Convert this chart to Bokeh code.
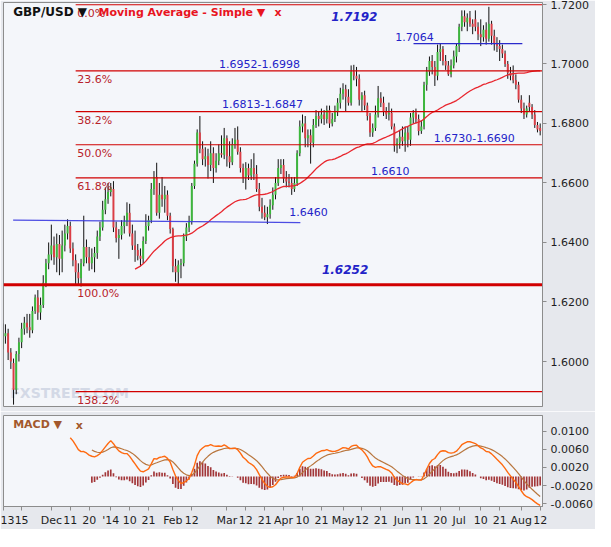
import numpy as np
import pandas as pd
from bokeh.plotting import figure
from bokeh.models import Range1d, FixedTicker, NumeralTickFormatter
from bokeh.layouts import column
from bokeh.embed import file_html
from bokeh.resources import INLINE
from bokeh.core.properties import value

# ---------------- data (daily GBP/USD, Nov 6 2013 .. Aug 12 2014) ----------------
OPEN = [
    1.6050, 1.6085, 1.6095, 1.6030, 1.5995, 1.5905, 1.6025, 1.6065, 1.6110, 1.6130,
    1.6115, 1.6105, 1.6170, 1.6215, 1.6165, 1.6190, 1.6265, 1.6330, 1.6360, 1.6390,
    1.6350, 1.6395, 1.6345, 1.6390, 1.6430, 1.6455, 1.6380, 1.6340, 1.6300, 1.6280,
    1.6330, 1.6385, 1.6350, 1.6330, 1.6350, 1.6365, 1.6420, 1.6450, 1.6510, 1.6545,
    1.6570, 1.6580, 1.6450, 1.6415, 1.6425, 1.6455, 1.6470, 1.6500, 1.6430, 1.6390,
    1.6375, 1.6355, 1.6345, 1.6405, 1.6455, 1.6475, 1.6580, 1.6620, 1.6500, 1.6560,
    1.6545, 1.6560, 1.6490, 1.6445, 1.6320, 1.6300, 1.6325, 1.6330, 1.6420, 1.6450,
    1.6470, 1.6590, 1.6665, 1.6770, 1.6715, 1.6680, 1.6690, 1.6660, 1.6700, 1.6650,
    1.6675, 1.6700, 1.6695, 1.6750, 1.6690, 1.6670, 1.6730, 1.6745, 1.6705, 1.6650,
    1.6620, 1.6650, 1.6625, 1.6650, 1.6630, 1.6580, 1.6520, 1.6500, 1.6485, 1.6495,
    1.6525, 1.6560, 1.6600, 1.6650, 1.6660, 1.6615, 1.6605, 1.6600, 1.6580, 1.6600,
    1.6700, 1.6790, 1.6800, 1.6750, 1.6760, 1.6735, 1.6795, 1.6825, 1.6815, 1.6830,
    1.6815, 1.6845, 1.6800, 1.6815, 1.6840, 1.6870, 1.6900, 1.6915, 1.6890, 1.6870,
    1.6975, 1.6960, 1.6950, 1.6880, 1.6895, 1.6860, 1.6825, 1.6770, 1.6785, 1.6830,
    1.6885, 1.6870, 1.6840, 1.6830, 1.6835, 1.6790, 1.6725, 1.6735, 1.6755, 1.6740,
    1.6770, 1.6745, 1.6820, 1.6835, 1.6815, 1.6775, 1.6790, 1.6930, 1.6975, 1.7010,
    1.6990, 1.6960, 1.7040, 1.7050, 1.7010, 1.6995, 1.6965, 1.6995, 1.7025, 1.7060,
    1.7125, 1.7160, 1.7140, 1.7155, 1.7135, 1.7150, 1.7125, 1.7100, 1.7090, 1.7115,
    1.7085, 1.7135, 1.7095, 1.7070, 1.7060, 1.7050, 1.7035, 1.7000, 1.6970, 1.6960,
    1.6945, 1.6930, 1.6880, 1.6850, 1.6830, 1.6870, 1.6855, 1.6830, 1.6795, 1.6785,
]
HIGH = [
    1.6128, 1.6125, 1.6110, 1.6045, 1.6010, 1.6035, 1.6080, 1.6130, 1.6150, 1.6160,
    1.6160, 1.6185, 1.6225, 1.6240, 1.6215, 1.6290, 1.6345, 1.6400, 1.6460, 1.6420,
    1.6430, 1.6425, 1.6440, 1.6460, 1.6478, 1.6470, 1.6400, 1.6360, 1.6330, 1.6345,
    1.6490, 1.6410, 1.6385, 1.6380, 1.6385, 1.6440, 1.6470, 1.6540, 1.6585, 1.6600,
    1.6600, 1.6606, 1.6470, 1.6445, 1.6475, 1.6490, 1.6535, 1.6530, 1.6460, 1.6440,
    1.6395, 1.6380, 1.6420, 1.6495, 1.6490, 1.6600, 1.6640, 1.6668, 1.6600, 1.6620,
    1.6590, 1.6575, 1.6500, 1.6450, 1.6345, 1.6340, 1.6345, 1.6430, 1.6465, 1.6490,
    1.6600, 1.6675, 1.6780, 1.6825, 1.6740, 1.6720, 1.6715, 1.6740, 1.6720, 1.6700,
    1.6730, 1.6760, 1.6785, 1.6760, 1.6740, 1.6750, 1.6785, 1.6790, 1.6720, 1.6665,
    1.6670, 1.6665, 1.6680, 1.6700, 1.6660, 1.6600, 1.6550, 1.6525, 1.6520, 1.6545,
    1.6585, 1.6620, 1.6680, 1.6680, 1.6680, 1.6640, 1.6630, 1.6620, 1.6620, 1.6710,
    1.6810, 1.6830, 1.6825, 1.6780, 1.6780, 1.6815, 1.6845, 1.6840, 1.6850, 1.6845,
    1.6860, 1.6860, 1.6835, 1.6860, 1.6885, 1.6920, 1.6935, 1.6930, 1.6915, 1.6995,
    1.6997, 1.6990, 1.6965, 1.6905, 1.6910, 1.6870, 1.6835, 1.6800, 1.6860, 1.6926,
    1.6905, 1.6890, 1.6855, 1.6870, 1.6850, 1.6800, 1.6750, 1.6775, 1.6790, 1.6790,
    1.6790, 1.6835, 1.6845, 1.6850, 1.6830, 1.6810, 1.6940, 1.6990, 1.7025, 1.7030,
    1.7010, 1.7065, 1.7070, 1.7060, 1.7030, 1.7010, 1.7015, 1.7045, 1.7070, 1.7135,
    1.7180, 1.7180, 1.7170, 1.7178, 1.7150, 1.7180, 1.7140, 1.7150, 1.7130, 1.7140,
    1.7192, 1.7145, 1.7115, 1.7090, 1.7080, 1.7065, 1.7045, 1.7010, 1.6990, 1.6995,
    1.6965, 1.6940, 1.6895, 1.6870, 1.6860, 1.6895, 1.6865, 1.6845, 1.6805, 1.6800,
]
LOW = [
    1.6040, 1.6060, 1.6005, 1.5975, 1.5855, 1.5890, 1.6000, 1.6045, 1.6090, 1.6095,
    1.6080, 1.6095, 1.6160, 1.6140, 1.6140, 1.6180, 1.6250, 1.6310, 1.6340, 1.6325,
    1.6300, 1.6290, 1.6300, 1.6370, 1.6410, 1.6365, 1.6320, 1.6258, 1.6256, 1.6252,
    1.6320, 1.6330, 1.6305, 1.6310, 1.6300, 1.6345, 1.6405, 1.6440, 1.6495, 1.6530,
    1.6555, 1.6435, 1.6400, 1.6345, 1.6410, 1.6430, 1.6455, 1.6420, 1.6375, 1.6335,
    1.6340, 1.6320, 1.6330, 1.6395, 1.6440, 1.6465, 1.6560, 1.6490, 1.6480, 1.6520,
    1.6500, 1.6475, 1.6430, 1.6300, 1.6268, 1.6255, 1.6280, 1.6320, 1.6405, 1.6435,
    1.6460, 1.6580, 1.6655, 1.6700, 1.6660, 1.6655, 1.6615, 1.6640, 1.6600, 1.6635,
    1.6660, 1.6685, 1.6680, 1.6655, 1.6650, 1.6660, 1.6715, 1.6695, 1.6635, 1.6600,
    1.6578, 1.6610, 1.6610, 1.6610, 1.6570, 1.6505, 1.6480, 1.6475, 1.6462, 1.6480,
    1.6510, 1.6545, 1.6590, 1.6630, 1.6600, 1.6585, 1.6585, 1.6560, 1.6570, 1.6590,
    1.6690, 1.6770, 1.6720, 1.6720, 1.6665, 1.6720, 1.6785, 1.6790, 1.6800, 1.6795,
    1.6800, 1.6785, 1.6790, 1.6805, 1.6825, 1.6850, 1.6880, 1.6840, 1.6860, 1.6860,
    1.6945, 1.6925, 1.6860, 1.6840, 1.6845, 1.6810, 1.6755, 1.6755, 1.6775, 1.6820,
    1.6855, 1.6825, 1.6815, 1.6810, 1.6780, 1.6705, 1.6700, 1.6715, 1.6725, 1.6705,
    1.6720, 1.6725, 1.6800, 1.6800, 1.6760, 1.6765, 1.6780, 1.6910, 1.6960, 1.6965,
    1.6926, 1.6945, 1.7010, 1.6995, 1.6980, 1.6960, 1.6955, 1.6985, 1.7005, 1.7040,
    1.7110, 1.7125, 1.7110, 1.7125, 1.7100, 1.7110, 1.7080, 1.7060, 1.7075, 1.7065,
    1.7075, 1.7065, 1.7045, 1.7040, 1.7010, 1.7020, 1.6990, 1.6950, 1.6945, 1.6935,
    1.6915, 1.6870, 1.6835, 1.6815, 1.6820, 1.6840, 1.6815, 1.6785, 1.6770, 1.6760,
]
CLOSE = [
    1.6085, 1.6095, 1.6030, 1.6000, 1.5905, 1.6025, 1.6065, 1.6110, 1.6130, 1.6115,
    1.6105, 1.6170, 1.6215, 1.6165, 1.6190, 1.6265, 1.6330, 1.6360, 1.6390, 1.6350,
    1.6395, 1.6345, 1.6390, 1.6430, 1.6455, 1.6380, 1.6340, 1.6300, 1.6280, 1.6330,
    1.6385, 1.6350, 1.6330, 1.6350, 1.6365, 1.6420, 1.6450, 1.6510, 1.6545, 1.6570,
    1.6585, 1.6450, 1.6415, 1.6425, 1.6455, 1.6470, 1.6500, 1.6430, 1.6390, 1.6375,
    1.6355, 1.6345, 1.6405, 1.6455, 1.6475, 1.6580, 1.6620, 1.6500, 1.6560, 1.6545,
    1.6560, 1.6490, 1.6445, 1.6320, 1.6300, 1.6325, 1.6330, 1.6420, 1.6450, 1.6470,
    1.6590, 1.6665, 1.6770, 1.6715, 1.6680, 1.6690, 1.6660, 1.6700, 1.6650, 1.6675,
    1.6700, 1.6695, 1.6750, 1.6690, 1.6670, 1.6730, 1.6745, 1.6705, 1.6650, 1.6620,
    1.6650, 1.6625, 1.6650, 1.6630, 1.6580, 1.6520, 1.6500, 1.6485, 1.6495, 1.6525,
    1.6560, 1.6600, 1.6650, 1.6660, 1.6615, 1.6605, 1.6600, 1.6580, 1.6600, 1.6700,
    1.6790, 1.6800, 1.6750, 1.6760, 1.6735, 1.6795, 1.6825, 1.6815, 1.6830, 1.6815,
    1.6845, 1.6800, 1.6815, 1.6840, 1.6870, 1.6900, 1.6915, 1.6890, 1.6870, 1.6975,
    1.6960, 1.6950, 1.6880, 1.6895, 1.6860, 1.6825, 1.6770, 1.6785, 1.6830, 1.6885,
    1.6870, 1.6840, 1.6830, 1.6835, 1.6790, 1.6725, 1.6735, 1.6755, 1.6740, 1.6770,
    1.6745, 1.6820, 1.6835, 1.6815, 1.6775, 1.6790, 1.6930, 1.6975, 1.7010, 1.6990,
    1.6960, 1.7040, 1.7050, 1.7010, 1.6995, 1.6965, 1.6995, 1.7025, 1.7060, 1.7125,
    1.7160, 1.7140, 1.7155, 1.7135, 1.7125, 1.7125, 1.7100, 1.7090, 1.7115, 1.7085,
    1.7135, 1.7095, 1.7070, 1.7060, 1.7050, 1.7035, 1.7000, 1.6970, 1.6960, 1.6945,
    1.6930, 1.6880, 1.6850, 1.6830, 1.6850, 1.6855, 1.6830, 1.6795, 1.6780, 1.6775,
]

# date axis (bar index -> label)
TICK_BARS = [0.3, 7, 18, 25, 32, 40, 47, 54, 63, 70, 83, 90, 97, 104, 111, 118,
             126, 133, 140, 148, 155, 162, 169, 177, 184, 192, 199]
TICK_LABELS = ["13", "15", "Dec", "11", "20", "'14", "10", "21", "Feb", "12", "Mar",
               "12", "21", "Apr", "10", "21", "May", "12", "21", "Jun", "11", "20",
               "Jul", "10", "21", "Aug", "12"]

PRICE_TICKS = [1.60, 1.62, 1.64, 1.66, 1.68, 1.70, 1.72]
MACD_TICKS = [-0.006, -0.002, 0.002, 0.006, 0.010]

# Fibonacci retracement
FIB_HIGH = 1.7199
FIB_LOW = 1.6258
FIB_RATIOS = [0.0, 0.236, 0.382, 0.5, 0.618, 1.0, 1.382]
FIB_NAMES = ["0.0%", "23.6%", "38.2%", "50.0%", "61.8%", "100.0%", "138.2%"]

# hand-drawn levels: (bar0, bar1, price0, price1)
SUPPORT_LINE = (3.85, 110.2, 1.6475, 1.6467)
RESIST_LINE = (152.1, 192.4, 1.7068, 1.7068)

# annotation texts: label, bar, price, bold-italic?
NOTE_TEXT = ["1.7192", "1.7064", "1.6952-1.6998", "1.6813-1.6847", "1.6730-1.6690",
             "1.6610", "1.6460", "1.6252"]
NOTE_BAR = [121.6, 145.3, 80.1, 81.2, 159.6, 136.4, 106.1, 118.2]
NOTE_PRICE = [1.7161, 1.7092, 1.7001, 1.6865, 1.6751, 1.6639, 1.6502, 1.6309]
NOTE_BOLD = [True, False, False, False, False, False, False, True]

SMA_PERIOD = 50
MACD_FAST, MACD_SLOW, MACD_SIG = 12, 26, 9

# ---------------- derived ----------------
o = np.array(OPEN); h = np.array(HIGH); l = np.array(LOW); c = np.array(CLOSE)
N = len(c)
idx = np.arange(N)
up = c >= o

FONT = value("DejaVu Sans")
X_START, X_END = 0.285, 199.86
BG = "#f4f6fa"
BORDER = "#e6e8ed"
AXIS_GREY = "#8c8c8c"

p1 = figure(width=595, height=411, x_range=Range1d(X_START, X_END),
            y_range=Range1d(1.58488, 1.72065), y_axis_location="right",
            x_axis_location=None, toolbar_location=None, output_backend="svg",
            min_border_left=3, min_border_right=52, min_border_top=2, min_border_bottom=5)
p1.grid.visible = False
p1.background_fill_color = BG
p1.border_fill_color = BORDER
p1.outline_line_color = AXIS_GREY

ax = p1.yaxis[0]
ax.ticker = FixedTicker(ticks=PRICE_TICKS)
ax.formatter = NumeralTickFormatter(format="0.0000")

# watermark
p1.text(x=[2.8], y=[1.5895], text=["FXSTREET.COM"], text_font=FONT, text_font_size="14px",
        text_font_style="bold", text_color="#d3d9e6", text_align="left", text_baseline="middle")

# candles
p1.segment(x0=idx, y0=h, x1=idx, y1=l, line_color="#111111", line_width=1)
p1.vbar(x=idx[up], width=0.72, top=c[up], bottom=o[up], fill_color="#3cb83c", line_color=None)
p1.vbar(x=idx[~up], width=0.72, top=o[~up], bottom=c[~up], fill_color="#dc3d45", line_color=None)

# moving average
sma = pd.Series(c).rolling(SMA_PERIOD).mean().to_numpy()
p1.line(idx[SMA_PERIOD - 1:], sma[SMA_PERIOD - 1:], line_color="#e8262e", line_width=1.3)

# fibonacci
rng = FIB_HIGH - FIB_LOW
levels = [FIB_HIGH - r * rng for r in FIB_RATIOS]
fib_start = 27.0
for r, lev in zip(FIB_RATIOS, levels):
    if r == 1.0:
        p1.segment(x0=[X_START], x1=[X_END], y0=[lev], y1=[lev], line_color="#d10000", line_width=3)
    else:
        p1.segment(x0=[fib_start], x1=[X_END], y0=[lev], y1=[lev], line_color="#d10000", line_width=1.2)
p1.text(x=[fib_start + 0.6] * len(levels), y=levels, text=FIB_NAMES, text_font=FONT,
        text_font_size="11px", text_color="#b8222a", text_align="left", text_baseline="top",
        y_offset=2)

# blue levels
p1.line([SUPPORT_LINE[0], SUPPORT_LINE[1]], [SUPPORT_LINE[2], SUPPORT_LINE[3]],
        line_color="#3a3ae0", line_width=1.3, line_alpha=0.9)
p1.line([RESIST_LINE[0], RESIST_LINE[1]], [RESIST_LINE[2], RESIST_LINE[3]],
        line_color="#2a2acc", line_width=1.3)

for t, b, pr, bold in zip(NOTE_TEXT, NOTE_BAR, NOTE_PRICE, NOTE_BOLD):
    p1.text(x=[b], y=[pr], text=[t], text_font=FONT, text_font_size="12px" if bold else "11px",
            text_font_style="bold italic" if bold else "normal", text_color="#2323c8",
            text_align="left", text_baseline="middle")

# header labels
p1.text(x=[3.85], y=[1.7173], text=["GBP/USD \u25BC"], text_font=FONT, text_font_size="12px",
        text_font_style="bold", text_color="#111111", text_align="left", text_baseline="middle")
p1.text(x=[35.5], y=[1.7173], text=["Moving Average - Simple \u25BC"], text_font=FONT,
        text_font_size="11px", text_font_style="bold", text_color="#e8141e",
        text_align="left", text_baseline="middle")
p1.text(x=[100.6], y=[1.7173], text=["x"], text_font=FONT, text_font_size="11px",
        text_font_style="bold", text_color="#e8141e", text_align="left", text_baseline="middle")

# ---------------- MACD panel ----------------
s = pd.Series(c)
ema_f = s.ewm(span=MACD_FAST, adjust=False).mean()
ema_s = s.ewm(span=MACD_SLOW, adjust=False).mean()
macd = (ema_f - ema_s).iloc[MACD_SLOW - 1:]
signal = macd.ewm(span=MACD_SIG, adjust=False).mean()
hist = (macd - signal).iloc[MACD_SIG - 1:]
sig_show = signal.iloc[MACD_SIG - 1:]

p2 = figure(width=595, height=118, x_range=p1.x_range, y_range=Range1d(-0.00664, 0.0135),
            y_axis_location="right", toolbar_location=None, output_backend="svg",
            min_border_left=3, min_border_right=52, min_border_top=4, min_border_bottom=22)
p2.grid.visible = False
p2.background_fill_color = BG
p2.border_fill_color = BORDER
p2.outline_line_color = AXIS_GREY

p2.vbar(x=hist.index.to_numpy(), width=0.62, top=hist.to_numpy(), bottom=0,
        fill_color="#a23638", line_color=None)
p2.line(sig_show.index.to_numpy(), sig_show.to_numpy(), line_color="#b8763e", line_width=1.2)
p2.line(macd.index.to_numpy(), macd.to_numpy(), line_color="#ff6a10", line_width=1.4)

p2.text(x=[3.85], y=[0.01156], text=["MACD \u25BC"], text_font=FONT, text_font_size="11px",
        text_font_style="bold", text_color="#a2582c", text_align="left", text_baseline="middle")
p2.text(x=[27.0], y=[0.01135], text=["x"], text_font=FONT, text_font_size="11px",
        text_font_style="bold", text_color="#a2582c", text_align="left", text_baseline="middle")

ay2 = p2.yaxis[0]
ay2.ticker = FixedTicker(ticks=MACD_TICKS)
ay2.formatter = NumeralTickFormatter(format="0.0000")

ax2 = p2.xaxis[0]
ax2.ticker = FixedTicker(ticks=TICK_BARS)
ax2.major_label_overrides = {float(b): lab for b, lab in zip(TICK_BARS, TICK_LABELS)}

for a in [ax, ay2, ax2]:
    a.axis_line_color = AXIS_GREY
    a.major_tick_line_color = AXIS_GREY
    a.major_tick_out = 4
    a.major_tick_in = 0
    a.minor_tick_line_color = None
    a.major_label_text_font = "DejaVu Sans"
    a.major_label_text_font_size = "11px"
    a.major_label_text_color = "#1e1e1e"
    a.major_label_standoff = 4
ax2.major_label_standoff = 3

layout = column(p1, p2, spacing=0)
open("out.html", "w").write(file_html(layout, INLINE))
